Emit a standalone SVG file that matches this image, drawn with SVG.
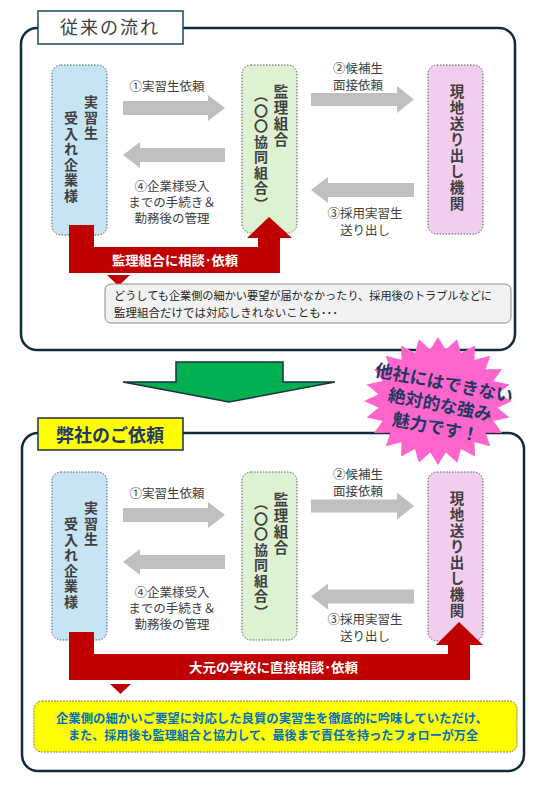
<svg xmlns="http://www.w3.org/2000/svg" width="541" height="788" viewBox="0 0 541 788">
<style>
text{font-family:"Noto Sans CJK JP","Noto Sans",sans-serif}
.frame{fill:#fff;stroke:#0f2c3d;stroke-width:2.5}
.node{stroke:#4d5966;stroke-width:1;stroke-dasharray:1.5 1.5}
.blue{fill:#c6e4f4}.green{fill:#dcf2d3}.pink{fill:#f1cdee}
.vt{writing-mode:vertical-rl;font-size:14px;letter-spacing:1.5px;font-weight:bold;fill:#404040}
.lbl{font-size:12.5px;fill:#404040;text-anchor:middle}
.garr{fill:#bfbfbf}
.red{fill:#c00000}
.rtxt{font-size:13px;font-weight:bold;fill:#fff}
</style>

<!-- top frame -->
<g id="frame-top">
<rect class="frame" x="21" y="28" width="494" height="322" rx="16"/>
<rect x="38" y="11" width="145" height="33" fill="#fff" stroke="#1c4a5c" stroke-width="1.5"/>
<text x="110" y="34" font-size="18" fill="#404040" text-anchor="middle" letter-spacing="2">従来の流れ</text>
</g>

<!-- bottom frame -->
<g id="frame-bottom">
<rect class="frame" x="22" y="433" width="502" height="338" rx="16"/>
<rect x="38" y="418" width="145" height="32" fill="#ffff00" stroke="#1f3040" stroke-width="1.5"/>
<text x="110" y="442" font-size="18" font-weight="bold" fill="#1f3864" text-anchor="middle">弊社のご依頼</text>
</g>

<!-- top nodes -->
<g id="top-company">
<rect class="node blue" x="52" y="65" width="55" height="170" rx="9"/>
<text class="vt" x="91" y="95">実習生</text>
<text class="vt" x="71" y="111">受入れ企業様</text>
</g>
<g id="top-union">
<rect class="node green" x="242" y="65" width="55" height="168" rx="9"/>
<text class="vt" x="281" y="84" style="font-size:14.5px">監理組合</text>
<text class="vt" x="261" y="88">（〇〇協同組合）</text>
</g>
<g id="top-agency">
<rect class="node pink" x="428" y="65" width="55" height="169" rx="9"/>
<text class="vt" x="457" y="84" style="font-size:14.5px">現地送り出し機関</text>
</g>

<!-- bottom nodes -->
<g id="bottom-company">
<rect class="node blue" x="52" y="472" width="55" height="168" rx="9"/>
<text class="vt" x="91" y="501">実習生</text>
<text class="vt" x="71" y="517">受入れ企業様</text>
</g>
<g id="bottom-union">
<rect class="node green" x="242" y="472" width="55" height="168" rx="9"/>
<text class="vt" x="281" y="492" style="font-size:14.5px">監理組合</text>
<text class="vt" x="261" y="496">（〇〇協同組合）</text>
</g>
<g id="bottom-agency">
<rect class="node pink" x="428" y="472" width="55" height="169" rx="9"/>
<text class="vt" x="457" y="491" style="font-size:14.5px">現地送り出し機関</text>
</g>

<!-- connectors -->
<g id="connectors">
<polygon class="garr" points="123,101 208,101 208,95 225,108 208,121 208,115 123,115"/>
<polygon class="garr" points="225,148 140,148 140,142 123,155 140,168 140,162 225,162"/>
<polygon class="garr" points="311,93 397,93 397,86 414,99.5 397,113 397,106 311,106"/>
<polygon class="garr" points="414,183 328,183 328,177 311,190 328,203 328,197 414,197"/>
<polygon class="garr" points="123,508 208,508 208,502 225,515 208,528 208,522 123,522"/>
<polygon class="garr" points="225,555 140,555 140,549 123,562 140,575 140,569 225,569"/>
<polygon class="garr" points="311,499.5 397,499.5 397,492.5 414,506 397,519.5 397,512.5 311,512.5"/>
<polygon class="garr" points="414,589.5 328,589.5 328,583.5 311,596.5 328,609.5 328,603.5 414,603.5"/>
<polygon class="red" points="69,225 94,225 94,247 258,247 258,238 247,238 269,217 292,238 280,238 280,273 69,273"/>
<polygon class="red" points="107,275 130,275 118.5,286"/>
<polygon class="red" points="69,632 94,632 94,654 448,654 448,645 436,645 459,622 483,645 470,645 470,680 69,680"/>
<polygon class="red" points="110,684 131,684 120.5,694"/>
<polygon points="176,362 283,362 283,382 335,382 229,402 123,382 176,382" fill="#00b050" stroke="#1f3040" stroke-width="1.5"/>
</g>

<!-- connector labels -->
<g id="labels">
<text class="lbl" x="167" y="91">①実習生依頼</text>
<text class="lbl" x="172" y="191">④企業様受入</text>
<text class="lbl" x="172" y="207">までの手続き＆</text>
<text class="lbl" x="172" y="223">勤務後の管理</text>
<text class="lbl" x="358" y="73">②候補生</text>
<text class="lbl" x="358" y="90">面接依頼</text>
<text class="lbl" x="365" y="218">③採用実習生</text>
<text class="lbl" x="365" y="235">送り出し</text>
<text class="rtxt" x="112" y="265" textLength="126" lengthAdjust="spacingAndGlyphs">監理組合に相談･依頼</text>

<text class="lbl" x="167" y="498">①実習生依頼</text>
<text class="lbl" x="172" y="597">④企業様受入</text>
<text class="lbl" x="172" y="613">までの手続き＆</text>
<text class="lbl" x="172" y="629">勤務後の管理</text>
<text class="lbl" x="358" y="479">②候補生</text>
<text class="lbl" x="358" y="496">面接依頼</text>
<text class="lbl" x="365" y="624">③採用実習生</text>
<text class="lbl" x="365" y="641">送り出し</text>
<text class="rtxt" x="189" y="672" textLength="169" lengthAdjust="spacingAndGlyphs">大元の学校に直接相談･依頼</text>
</g>

<!-- notes -->
<g id="note-top">
<rect x="105" y="284" width="406" height="39" rx="6" fill="#f2f2f2" stroke="#8c8c8c" stroke-width="1"/>
<text x="114" y="300" font-size="11.5" fill="#262626" textLength="378" lengthAdjust="spacingAndGlyphs">どうしても企業側の細かい要望が届かなかったり、採用後のトラブルなどに</text>
<text x="114" y="317" font-size="11.5" fill="#262626" textLength="224" lengthAdjust="spacingAndGlyphs">監理組合だけでは対応しきれないことも･･･</text>
</g>
<g id="note-bottom">
<rect x="34" y="701" width="483" height="51" rx="8" fill="#ffff00" stroke="#7f7f5a" stroke-width="1" stroke-dasharray="2 1"/>
<text x="56" y="723" font-size="12.5" font-weight="bold" fill="#0070c0" textLength="432" lengthAdjust="spacingAndGlyphs">企業側の細かいご要望に対応した良質の実習生を徹底的に吟味していただけ、</text>
<text x="68" y="740" font-size="12.5" font-weight="bold" fill="#0070c0" textLength="410" lengthAdjust="spacingAndGlyphs">また、採用後も監理組合と協力して、最後まで責任を持ったフォローが万全</text>
</g>

<!-- starburst -->
<g id="starburst">
<polygon fill="#ff66cc" points="512,401 497.5,407.8 509.5,417.6 493.4,420.9 502.1,433 485.6,432.7 490.3,446.3 474.5,442.3 475,456.4 461,449 457.2,462.8 445.8,452.6 438,465 430.2,452.6 418.8,462.8 415,449 401,456.4 401.5,442.3 385.7,446.3 390.4,432.7 373.9,433 382.6,420.9 366.5,417.6 378.5,407.8 364,401 378.5,394.2 366.5,384.4 382.6,381.1 373.9,369 390.4,369.3 385.7,355.7 401.5,359.7 401,345.6 415,353 418.8,339.2 430.2,349.4 438,337 445.8,349.4 457.2,339.2 461,353 475,345.6 474.5,359.7 490.3,355.7 485.6,369.3 502.1,369 493.4,381.1 509.5,384.4 497.5,394.2"/>
<g transform="rotate(11 440 405)" font-size="17.5" font-weight="bold" fill="#1f3864" text-anchor="middle">
<text x="440" y="389">他社にはできない</text>
<text x="440" y="411">絶対的な強み</text>
<text x="440" y="434">魅力です！</text>
</g>
</g>
</svg>
